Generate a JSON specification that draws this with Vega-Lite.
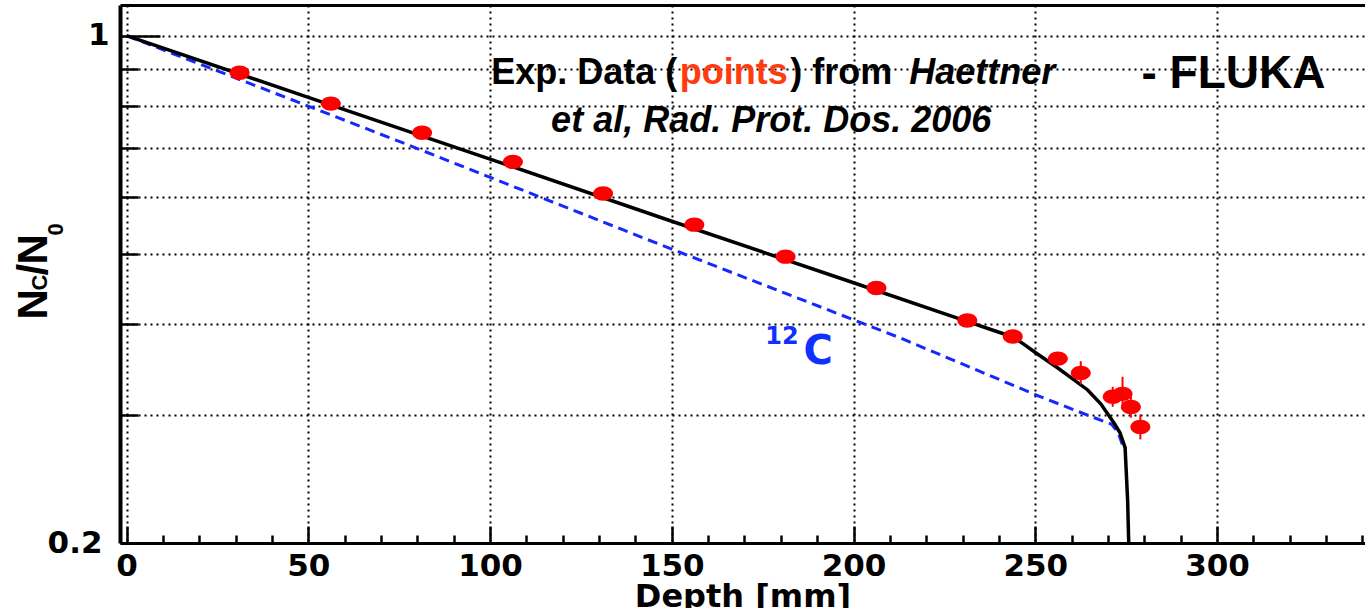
{
  "$schema": "https://vega.github.io/schema/vega-lite/v6.json",
  "width": 1245,
  "height": 538,
  "autosize": "none",
  "padding": {"left": 120, "top": 5, "right": 0, "bottom": 65},
  "background": "white",
  "config": {"view": {"stroke": null}, "axis": {"labelFlush": false, "labelOverlap": false}},
  "datasets": {
    "c12": [
      {"x": 0, "y": 1}, {"x": 75, "y": 0.715}, {"x": 150, "y": 0.508}, {"x": 213, "y": 0.383},
      {"x": 251, "y": 0.3187}, {"x": 264.4, "y": 0.3}, {"x": 271, "y": 0.2915}, {"x": 272.8, "y": 0.284}, {"x": 274.3, "y": 0.27}
    ],
    "fluka": [
      {"x": 0, "y": 1}, {"x": 50, "y": 0.822}, {"x": 100, "y": 0.676}, {"x": 150, "y": 0.555}, {"x": 200, "y": 0.4566},
      {"x": 231, "y": 0.4043}, {"x": 240, "y": 0.3903}, {"x": 244, "y": 0.3843}, {"x": 247, "y": 0.3753}, {"x": 250, "y": 0.366},
      {"x": 256, "y": 0.349}, {"x": 260, "y": 0.3374}, {"x": 264.4, "y": 0.325}, {"x": 268, "y": 0.311}, {"x": 271.7, "y": 0.2924},
      {"x": 273.3, "y": 0.2837}, {"x": 274.7, "y": 0.2706}, {"x": 274.95, "y": 0.255}, {"x": 275.4, "y": 0.229}, {"x": 275.7, "y": 0.2},
      {"x": 275.75, "y": 0.19}
    ],
    "exp": [
      {"x": 31.1, "y": 0.889}, {"x": 56.2, "y": 0.806}, {"x": 81.3, "y": 0.735}, {"x": 106.3, "y": 0.67},
      {"x": 131.1, "y": 0.606}, {"x": 156.2, "y": 0.549}, {"x": 181.3, "y": 0.496}, {"x": 206.3, "y": 0.449},
      {"x": 231.3, "y": 0.405}, {"x": 243.8, "y": 0.385}, {"x": 256.2, "y": 0.359}, {"x": 262.5, "y": 0.343},
      {"x": 271.3, "y": 0.318}, {"x": 274.0, "y": 0.321}, {"x": 276.3, "y": 0.308}, {"x": 278.9, "y": 0.289}
    ],
    "errs": [
      {"x": 262.5, "lo": 0.3307, "hi": 0.356},
      {"x": 271.3, "lo": 0.3081, "hi": 0.3283},
      {"x": 274.0, "lo": 0.3055, "hi": 0.3389},
      {"x": 276.3, "lo": 0.2976, "hi": 0.3204},
      {"x": 278.9, "lo": 0.2778, "hi": 0.3007}
    ]
  },
  "resolve": {"axis": {"x": "independent"}},
  "layer": [
    {
      "data": {"name": "c12"},
      "mark": {"type": "line", "color": "#1428ff", "strokeWidth": 3, "strokeDash": [10, 6], "clip": true},
      "encoding": {
        "x": {
          "field": "x", "type": "quantitative",
          "scale": {"domain": [-1.8, 340.7], "nice": false, "zero": false},
          "axis": {
            "orient": "bottom",
            "values": [0,10,20,30,40,50,60,70,80,90,100,110,120,130,140,150,160,170,180,190,200,210,220,230,240,250,260,270,280,290,300,310,320,330,340],
            "labelExpr": "datum.value % 50 === 0 ? datum.label : ''",
            "format": "d",
            "labelFont": "DejaVu Sans", "labelFontWeight": "bold", "labelFontSize": 31, "labelColor": "black",
            "labelPadding": 25,
            "tickSize": {"condition": {"test": "datum.value % 50 === 0", "value": -17}, "value": -8},
            "tickWidth": 2.5, "tickColor": "black",
            "domainWidth": 3, "domainColor": "black",
            "grid": true, "gridDash": [2, 4], "gridWidth": 2, "gridColor": "black",
            "gridOpacity": {"condition": {"test": "datum.value % 50 === 0", "value": 1}, "value": 0},
            "title": "Depth [mm]", "titleFont": "DejaVu Sans", "titleFontWeight": "bold", "titleFontSize": 32,
            "titleColor": "black", "titleBaseline": "top", "titleY": 38
          }
        },
        "y": {
          "field": "y", "type": "quantitative",
          "scale": {"type": "log", "domain": [0.2, 1.102], "nice": false},
          "axis": {
            "orient": "left",
            "values": [0.2, 0.3, 0.4, 0.5, 0.6, 0.7, 0.8, 0.9, 1],
            "labelExpr": "datum.value === 1 ? '1' : (datum.value === 0.2 ? '0.2' : '')",
            "labelFont": "DejaVu Sans", "labelFontWeight": "bold", "labelFontSize": 31, "labelColor": "black",
            "labelPadding": {"condition": {"test": "datum.value === 1", "value": 51}, "value": 36},
            "tickSize": {"condition": {"test": "datum.value === 1", "value": -40}, "value": -18},
            "tickWidth": 2.5, "tickColor": "black",
            "domainWidth": 4, "domainColor": "black",
            "grid": true, "gridDash": [2, 4], "gridWidth": 2, "gridColor": "black",
            "gridOpacity": {"condition": {"test": "datum.value === 0.2", "value": 0}, "value": 1},
            "title": null
          }
        }
      }
    },
    {
      "data": {"name": "fluka"},
      "mark": {"type": "line", "color": "black", "strokeWidth": 3.5, "clip": true},
      "encoding": {
        "x": {
          "field": "x", "type": "quantitative",
          "scale": {"domain": [-1.8, 340.7], "nice": false, "zero": false},
          "axis": {"orient": "top", "domain": true, "domainWidth": 3, "domainColor": "black", "ticks": false, "labels": false, "grid": false, "title": null}
        },
        "y": {"field": "y", "type": "quantitative", "scale": {"type": "log", "domain": [0.2, 1.102], "nice": false}}
      }
    },
    {
      "data": {"name": "errs"},
      "mark": {"type": "rule", "color": "#ff0000", "strokeWidth": 2},
      "encoding": {
        "x": {"field": "x", "type": "quantitative", "scale": {"domain": [-1.8, 340.7], "nice": false, "zero": false}, "axis": null},
        "y": {"field": "lo", "type": "quantitative", "scale": {"type": "log", "domain": [0.2, 1.102], "nice": false}},
        "y2": {"field": "hi"}
      }
    },
    {
      "data": {"name": "exp"},
      "mark": {"type": "point", "shape": "M -1 0 A 1 0.72 0 1 0 1 0 A 1 0.72 0 1 0 -1 0 Z", "filled": true, "size": 400, "color": "#ff0000", "opacity": 1},
      "encoding": {
        "x": {"field": "x", "type": "quantitative", "scale": {"domain": [-1.8, 340.7], "nice": false, "zero": false}, "axis": null},
        "y": {"field": "y", "type": "quantitative", "scale": {"type": "log", "domain": [0.2, 1.102], "nice": false}}
      }
    },
    {
      "data": {"values": [{"x": 100.3, "y": 0.859, "t": "Exp. Data ("}, {"x": 182.6, "y": 0.859, "t": ") from"}]},
      "mark": {"type": "text", "font": "Liberation Sans", "fontWeight": "bold", "fontSize": 36, "align": "left", "baseline": "alphabetic", "color": "black"},
      "encoding": {
        "x": {"field": "x", "type": "quantitative", "scale": {"domain": [-1.8, 340.7], "nice": false, "zero": false}, "axis": null},
        "y": {"field": "y", "type": "quantitative", "scale": {"type": "log", "domain": [0.2, 1.102], "nice": false}},
        "text": {"field": "t"}
      }
    },
    {
      "data": {"values": [{"x": 152.2, "y": 0.859, "t": "points"}]},
      "mark": {"type": "text", "font": "Liberation Sans", "fontWeight": "bold", "fontSize": 36, "align": "left", "baseline": "alphabetic", "color": "#ff3c0f"},
      "encoding": {
        "x": {"field": "x", "type": "quantitative", "scale": {"domain": [-1.8, 340.7], "nice": false, "zero": false}, "axis": null},
        "y": {"field": "y", "type": "quantitative", "scale": {"type": "log", "domain": [0.2, 1.102], "nice": false}},
        "text": {"field": "t"}
      }
    },
    {
      "data": {"values": [{"x": 215.3, "y": 0.859, "t": "Haettner"}, {"x": 116.8, "y": 0.7376, "t": "et al, Rad. Prot. Dos. 2006"}]},
      "mark": {"type": "text", "font": "Liberation Sans", "fontWeight": "bold", "fontStyle": "italic", "fontSize": 36, "align": "left", "baseline": "alphabetic", "color": "black"},
      "encoding": {
        "x": {"field": "x", "type": "quantitative", "scale": {"domain": [-1.8, 340.7], "nice": false, "zero": false}, "axis": null},
        "y": {"field": "y", "type": "quantitative", "scale": {"type": "log", "domain": [0.2, 1.102], "nice": false}},
        "text": {"field": "t"}
      }
    },
    {
      "data": {"values": [{"x": 279.2, "y": 0.848, "t": "- FLUKA"}]},
      "mark": {"type": "text", "font": "Liberation Sans", "fontWeight": "bold", "fontSize": 46, "align": "left", "baseline": "alphabetic", "color": "black"},
      "encoding": {
        "x": {"field": "x", "type": "quantitative", "scale": {"domain": [-1.8, 340.7], "nice": false, "zero": false}, "axis": null},
        "y": {"field": "y", "type": "quantitative", "scale": {"type": "log", "domain": [0.2, 1.102], "nice": false}},
        "text": {"field": "t"}
      }
    },
    {
      "data": {"values": [{"x": 175.7, "y": 0.3754, "t": "12"}]},
      "mark": {"type": "text", "font": "DejaVu Sans", "fontWeight": "bold", "fontSize": 24, "align": "left", "baseline": "alphabetic", "color": "#1030ff"},
      "encoding": {
        "x": {"field": "x", "type": "quantitative", "scale": {"domain": [-1.8, 340.7], "nice": false, "zero": false}, "axis": null},
        "y": {"field": "y", "type": "quantitative", "scale": {"type": "log", "domain": [0.2, 1.102], "nice": false}},
        "text": {"field": "t"}
      }
    },
    {
      "data": {"values": [{"x": 186.2, "y": 0.3524, "t": "C"}]},
      "mark": {"type": "text", "font": "DejaVu Sans", "fontWeight": "bold", "fontSize": 40, "align": "left", "baseline": "alphabetic", "color": "#1030ff"},
      "encoding": {
        "x": {"field": "x", "type": "quantitative", "scale": {"domain": [-1.8, 340.7], "nice": false, "zero": false}, "axis": null},
        "y": {"field": "y", "type": "quantitative", "scale": {"type": "log", "domain": [0.2, 1.102], "nice": false}},
        "text": {"field": "t"}
      }
    },
    {
      "data": {"values": [{"x": -21.87, "y": 0.4064, "t": "N"}, {"x": -21.87, "y": 0.4672, "t": "/"}, {"x": -21.87, "y": 0.4838, "t": "N"}]},
      "mark": {"type": "text", "font": "Liberation Sans", "fontWeight": "bold", "fontSize": 42, "align": "left", "baseline": "alphabetic", "angle": 270, "color": "black"},
      "encoding": {
        "x": {"field": "x", "type": "quantitative", "scale": {"domain": [-1.8, 340.7], "nice": false, "zero": false}, "axis": null},
        "y": {"field": "y", "type": "quantitative", "scale": {"type": "log", "domain": [0.2, 1.102], "nice": false}},
        "text": {"field": "t"}
      }
    },
    {
      "data": {"values": [{"x": -21.87, "y": 0.4455, "t": "C"}, {"x": -17.47, "y": 0.5304, "t": "0"}]},
      "mark": {"type": "text", "font": "Liberation Sans", "fontWeight": "bold", "fontSize": 22, "align": "left", "baseline": "alphabetic", "angle": 270, "color": "black"},
      "encoding": {
        "x": {"field": "x", "type": "quantitative", "scale": {"domain": [-1.8, 340.7], "nice": false, "zero": false}, "axis": null},
        "y": {"field": "y", "type": "quantitative", "scale": {"type": "log", "domain": [0.2, 1.102], "nice": false}},
        "text": {"field": "t"}
      }
    }
  ]
}
